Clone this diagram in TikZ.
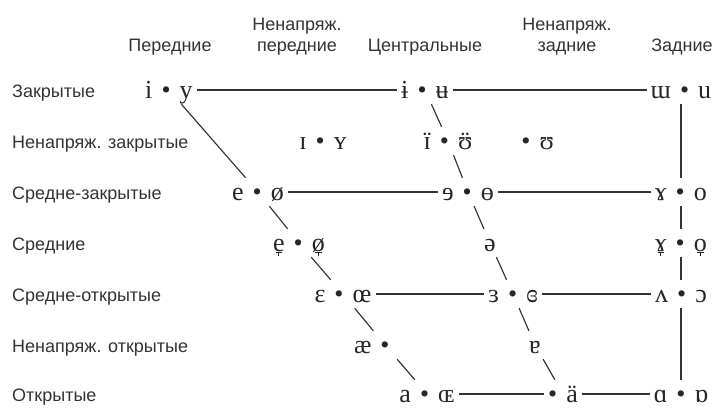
\documentclass[tikz,border=0pt]{standalone}
\usepackage{fontspec}
\setmainfont{Liberation Sans}
\newfontfamily\ipafont[WordSpace=1.4]{Liberation Serif}
\newcommand{\diaer}[1]{\ooalign{#1\cr\hidewidth ¨\hidewidth\cr}}
\newcommand{\tackbelow}[1]{\ooalign{#1\cr\hidewidth\rule[-0.09em]{0.24em}{0.04em}\hidewidth\cr
    \hidewidth\rule[-0.21em]{0.04em}{0.13em}\hidewidth\cr}}
\begin{document}
\begin{tikzpicture}[x=1pt,y=-1pt,
    v/.style={font=\ipafont\fontsize{26}{30}\selectfont,text height=20pt,text depth=4pt,
              inner xsep=4pt,inner ysep=2pt,text=black!85},
    lbl/.style={font=\fontsize{18}{21}\selectfont,anchor=base west,inner sep=0pt,text=black!80},
    head/.style={font=\fontsize{18}{21}\selectfont,align=center,anchor=south,inner sep=0pt,
                 text depth=4pt,text=black!80},
    ln/.style={line width=1.15pt,black!80}]
    \useasboundingbox (0,0) rectangle (715,408);
    % column heads
    \node[head] (front) at (170,56) {Передние};
    \node[head] (nfront) at (297,56) {Ненапряж.\\передние};
    \node[head] (central) at (425,56) {Центральные};
    \node[head] (nback) at (567,56) {Ненапряж.\\задние};
    \node[head] (back) at (682,56) {Задние};
    % row labels
    \node[lbl] (close) at (12,97) {Закрытые};
    \node[lbl] (nclose) at (12,148) {Ненапряж. закрытые};
    \node[lbl] (closemid) at (12,199) {Средне-закрытые};
    \node[lbl] (mid) at (12,250) {Средние};
    \node[lbl] (openmid) at (12,301) {Средне-открытые};
    \node[lbl] (nopen) at (12,352) {Ненапряж. открытые};
    \node[lbl] (open) at (12,401) {Открытые};
    % vowels
    \node[v] (iy) at (169,90) {i • y};
    \node[v] (iu) at (425,90) {ɨ • ʉ};
    \node[v] (wu) at (681,90) {ɯ • u};
    \node[v] (IY) at (323,141) {ɪ • ʏ};
    \node[v] (IU) at (448,141) {\diaer{ɪ} • \diaer{ʊ}};
    \node[v] (U) at (526,141) {\phantom{ʊ} • ʊ};
    \node[v] (eo) at (258,192) {e • ø};
    \node[v] (ee) at (468,192) {ɘ • ɵ};
    \node[v] (go) at (681,192) {ɤ • o};
    \node[v] (eolow) at (299,243) {\tackbelow{e} • \tackbelow{ø}};
    \node[v] (schwa) at (490,243) {ə};
    \node[v] (golow) at (681,243) {\tackbelow{ɤ} • \tackbelow{o}};
    \node[v] (Eoe) at (343,294) {ɛ • œ};
    \node[v] (33) at (513,294) {ɜ • ɞ};
    \node[v] (vo) at (681,294) {ʌ • ɔ};
    \node[v] (ae) at (385,345) {æ • \phantom{æ}};
    \node[v] (turna) at (535,345) {ɐ};
    \node[v] (aOE) at (427,394) {a • ɶ};
    \node[v] (aa) at (563,394) {• ä};
    \node[v] (AO) at (681,394) {ɑ • ɒ};
    % lines
    \draw[ln] (iy) -- (iu) -- (wu);
    \draw[ln] (eo) -- (ee) -- (go);
    \draw[ln] (Eoe) -- (33) -- (vo);
    \draw[ln] (aOE) -- (aa) -- (AO);
    \draw[ln] (iy) -- (eo) -- (eolow) -- (Eoe) -- (ae) -- (aOE);
    \draw[ln] (iu) -- (IU) -- (ee) -- (schwa) -- (33) -- (turna) -- (aa);
    \draw[ln] (wu) -- (go) -- (golow) -- (vo) -- (AO);
\end{tikzpicture}
\end{document}
